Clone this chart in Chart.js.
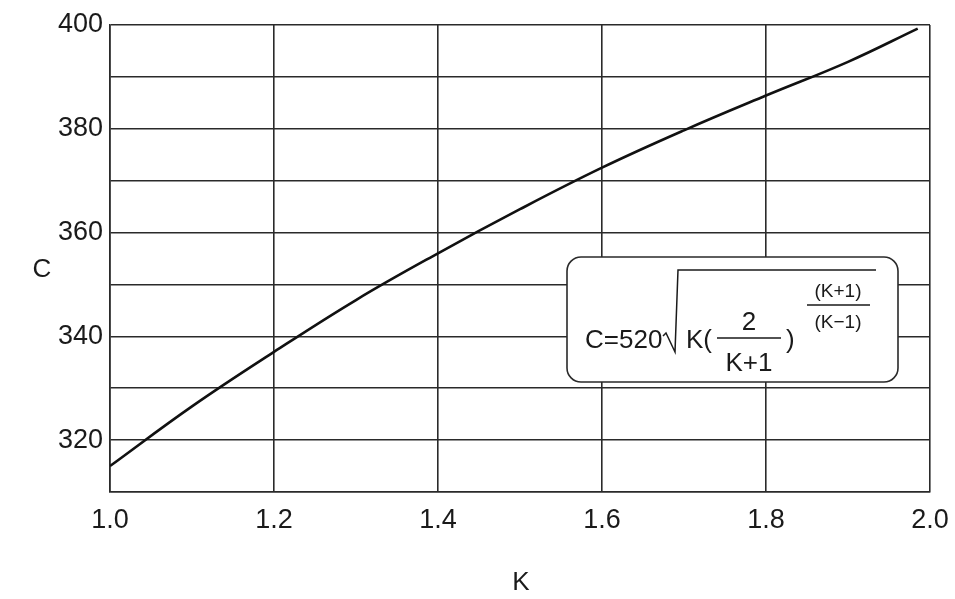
<!DOCTYPE html>
<html>
<head>
<meta charset="utf-8">
<script src="https://cdn.jsdelivr.net/npm/chart.js@4"></script>
<style>
  html, body { margin: 0; padding: 0; background: #fff; }
  #wrap { width: 955px; height: 599px; }
</style>
</head>
<body>
<div id="wrap"><canvas id="chart" width="955" height="599"></canvas></div>
<script>
// values
var kValues = [1.0, 1.1, 1.2, 1.3, 1.4, 1.5, 1.6, 1.7, 1.8, 1.9, 1.985];
var cValues = [315, 326.5, 337, 347, 356, 364.5, 372.5, 379.7, 386.4, 392.9, 399.3];
var xTicks = ['1.0', '1.2', '1.4', '1.6', '1.8', '2.0'];
var yTicks = [320, 340, 360, 380, 400];

var fam = '"Liberation Sans", Arial, sans-serif';
var tickFont = { family: fam, size: 27 };
var ink = '#1a1a1a';
var gridInk = '#2a2a2a';

var points = kValues.map(function (k, i) { return { x: k, y: cValues[i] }; });

// axis titles and formula box
var extras = {
  id: 'extras',
  afterDraw: function (chart) {
    var c = chart.ctx;
    c.save();
    c.fillStyle = ink;
    c.font = '26px ' + fam;
    c.textAlign = 'center';
    c.textBaseline = 'middle';
    c.fillText('C', 42, 270);
    c.fillText('K', 521, 583);

    // box
    c.beginPath();
    c.roundRect(567, 257, 331, 125, 14);
    c.fillStyle = '#fff';
    c.fill();
    c.lineWidth = 1.6;
    c.strokeStyle = gridInk;
    c.stroke();

    c.fillStyle = ink;
    c.textBaseline = 'alphabetic';
    c.font = '26px ' + fam;
    c.textAlign = 'left';
    c.fillText('C=520', 585, 348);
    c.fillText('K(', 686, 348);
    c.fillText(')', 786, 348);
    c.textAlign = 'center';
    c.fillText('2', 749, 330);
    c.fillText('K+1', 749, 371);

    c.font = '19px ' + fam;
    c.fillText('(K+1)', 838, 297);
    c.fillText('(K\u22121)', 838, 328);

    // radical and fraction bars
    c.strokeStyle = ink;
    c.lineWidth = 1.5;
    c.beginPath();
    c.moveTo(663, 336);
    c.lineTo(666, 333);
    c.lineTo(675, 352);
    c.lineTo(678, 270);
    c.lineTo(876, 270);
    c.stroke();
    c.beginPath();
    c.moveTo(717, 338); c.lineTo(781, 338);
    c.moveTo(807, 305); c.lineTo(870, 305);
    c.stroke();
    c.restore();
  }
};

new Chart(document.getElementById('chart').getContext('2d'), {
  type: 'scatter',
  data: {
    datasets: [{
      data: points,
      showLine: true,
      borderColor: '#111',
      borderWidth: 2.6,
      pointRadius: 0,
      tension: 0.4,
      fill: false
    }]
  },
  options: {
    responsive: false,
    animation: false,
    layout: { padding: { left: 0, right: 25, top: 25, bottom: 0 } },
    plugins: { legend: { display: false }, tooltip: { enabled: false } },
    scales: {
      x: {
        type: 'linear',
        min: 1.0,
        max: 2.0,
        afterFit: function (s) { s.height = 107; s.paddingRight = 0; s.paddingLeft = 0; },
        grid: { color: gridInk, lineWidth: 1.6, drawTicks: false },
        border: { color: gridInk, width: 1.6 },
        ticks: {
          stepSize: 0.2,
          padding: 12,
          color: ink,
          font: tickFont,
          maxRotation: 0,
          callback: function (v) {
            var s = v.toFixed(1);
            return xTicks.indexOf(s) >= 0 ? s : '';
          }
        }
      },
      y: {
        min: 310,
        max: 400,
        afterFit: function (s) { s.width = 110; s.paddingTop = 0; s.paddingBottom = 0; },
        grid: { color: gridInk, lineWidth: 1.6, drawTicks: false },
        border: { color: gridInk, width: 1.6 },
        ticks: {
          stepSize: 10,
          padding: 7,
          color: ink,
          font: tickFont,
          callback: function (v) { return yTicks.indexOf(v) >= 0 ? String(v) : ''; }
        }
      }
    }
  },
  plugins: [extras]
});
</script>
</body>
</html>
